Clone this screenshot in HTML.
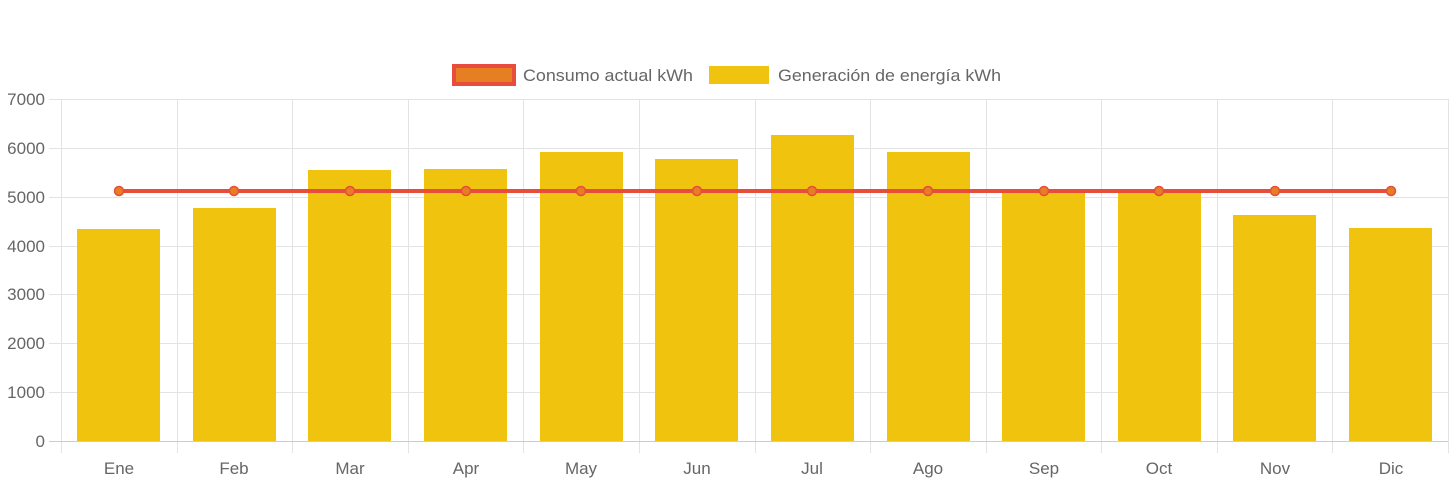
<!DOCTYPE html>
<html><head><style>body{margin:0;background:#fff}svg{display:block}text{font-family:"Liberation Sans",sans-serif;fill:#666;font-size:17px}</style></head>
<body>
<svg width="1456" height="484" viewBox="0 0 1456 484">
<g stroke="#e3e3e3" stroke-width="1">
<line x1="49" x2="1448" y1="99.5" y2="99.5"/><line x1="49" x2="1448" y1="148.5" y2="148.5"/><line x1="49" x2="1448" y1="197.5" y2="197.5"/><line x1="49" x2="1448" y1="246.5" y2="246.5"/><line x1="49" x2="1448" y1="294.5" y2="294.5"/><line x1="49" x2="1448" y1="343.5" y2="343.5"/><line x1="49" x2="1448" y1="392.5" y2="392.5"/>
<line x1="61.5" x2="61.5" y1="99" y2="453"/><line x1="177.5" x2="177.5" y1="99" y2="453"/><line x1="292.5" x2="292.5" y1="99" y2="453"/><line x1="408.5" x2="408.5" y1="99" y2="453"/><line x1="523.5" x2="523.5" y1="99" y2="453"/><line x1="639.5" x2="639.5" y1="99" y2="453"/><line x1="755.5" x2="755.5" y1="99" y2="453"/><line x1="870.5" x2="870.5" y1="99" y2="453"/><line x1="986.5" x2="986.5" y1="99" y2="453"/><line x1="1101.5" x2="1101.5" y1="99" y2="453"/><line x1="1217.5" x2="1217.5" y1="99" y2="453"/><line x1="1332.5" x2="1332.5" y1="99" y2="453"/><line x1="1448.5" x2="1448.5" y1="99" y2="453"/>
</g>
<line x1="49" x2="1448" y1="441.5" y2="441.5" stroke="#ccc"/>
<g fill="#f0c30f">
<rect x="77" y="229" width="83" height="212"/><rect x="193" y="208" width="83" height="233"/><rect x="308" y="170" width="83" height="271"/><rect x="424" y="169" width="83" height="272"/><rect x="540" y="152" width="83" height="289"/><rect x="655" y="159" width="83" height="282"/><rect x="771" y="135" width="83" height="306"/><rect x="887" y="152" width="83" height="289"/><rect x="1002" y="192" width="83" height="249"/><rect x="1118" y="192" width="83" height="249"/><rect x="1233" y="215" width="83" height="226"/><rect x="1349" y="228" width="83" height="213"/>
</g>
<line x1="119" x2="1391" y1="191" y2="191" stroke="#e74c3c" stroke-width="4"/>
<g fill="#e67e22" stroke="#e74c3c" stroke-width="1.5">
<circle cx="119" cy="191" r="4.5"/><circle cx="234" cy="191" r="4.5"/><circle cx="350" cy="191" r="4.5"/><circle cx="466" cy="191" r="4.5"/><circle cx="581" cy="191" r="4.5"/><circle cx="697" cy="191" r="4.5"/><circle cx="812" cy="191" r="4.5"/><circle cx="928" cy="191" r="4.5"/><circle cx="1044" cy="191" r="4.5"/><circle cx="1159" cy="191" r="4.5"/><circle cx="1275" cy="191" r="4.5"/><circle cx="1391" cy="191" r="4.5"/>
</g>
<g text-anchor="end">
<text x="45" y="105">7000</text><text x="45" y="154">6000</text><text x="45" y="203">5000</text><text x="45" y="252">4000</text><text x="45" y="300">3000</text><text x="45" y="349">2000</text><text x="45" y="398">1000</text><text x="45" y="447">0</text>
</g>
<g text-anchor="middle">
<text x="119" y="474">Ene</text><text x="234" y="474">Feb</text><text x="350" y="474">Mar</text><text x="466" y="474">Apr</text><text x="581" y="474">May</text><text x="697" y="474">Jun</text><text x="812" y="474">Jul</text><text x="928" y="474">Ago</text><text x="1044" y="474">Sep</text><text x="1159" y="474">Oct</text><text x="1275" y="474">Nov</text><text x="1391" y="474">Dic</text>
</g>
<rect x="454" y="66" width="60" height="18" fill="#e67e22" stroke="#e74c3c" stroke-width="4"/>
<text x="523" y="81" textLength="170" lengthAdjust="spacingAndGlyphs">Consumo actual kWh</text>
<rect x="709" y="66" width="60" height="18" fill="#f0c30f"/>
<text x="778" y="81" textLength="223" lengthAdjust="spacingAndGlyphs">Generación de energía kWh</text>
</svg>
</body></html>
